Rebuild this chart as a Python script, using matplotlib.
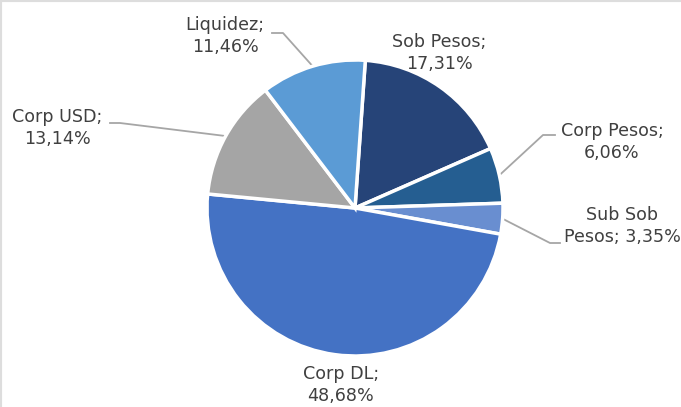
import matplotlib.pyplot as plt
import numpy as np
from matplotlib.lines import Line2D

# Portfolio composition (%), clockwise from 12 o'clock
categories = ['Sob Pesos', 'Corp Pesos', 'Sub Sob Pesos', 'Corp DL', 'Corp USD', 'Liquidez']
shares = [17.31, 6.06, 3.35, 48.68, 13.14, 11.46]
label_texts = ['Sob Pesos;\n17,31%', 'Corp Pesos;\n6,06%', 'Sub Sob\nPesos; 3,35%',
               'Corp DL;\n48,68%', 'Corp USD;\n13,14%', 'Liquidez;\n11,46%']

colors = ['#264478', '#255E91', '#698ED0', '#4472C4', '#A5A5A5', '#5B9BD5']

W, H = 681, 407
fig = plt.figure(figsize=(W / 100, H / 100), dpi=100)
ax = fig.add_axes([0, 0, 1, 1])

cx, cy, r = 355, H - 208, 148
start = 86
wedges, _ = ax.pie(shares, colors=colors, startangle=start, counterclock=False,
                   center=(cx, cy), radius=r, frame=True,
                   wedgeprops=dict(edgecolor='white', linewidth=2.5))
ax.set_xlim(0, W)
ax.set_ylim(0, H)
ax.set_aspect('equal')
ax.axis('off')

# label placement (pixel coords from top-left) and leader elbows (None = no leader)
label_pos = [(439, 53), (612, 142), (622, 226), (341, 385), (57, 128), (225, 36)]
elbows = [None, [(555, 135), (543, 135)], [(560, 243), (550, 243)], None,
          [(110, 123), (120, 123)], [(272, 33), (283, 33)]]

txt_color = '#404040'
for w, txt, pos, elb in zip(wedges, label_texts, label_pos, elbows):
    ax.text(pos[0], H - pos[1], txt, ha='center', va='center', multialignment='center',
            fontsize=12.6, color=txt_color, family='DejaVu Sans', linespacing=1.3)
    if elb is not None:
        mid = np.deg2rad((w.theta1 + w.theta2) / 2)
        ex, ey = cx + r * np.cos(mid), cy + r * np.sin(mid)
        xs = [elb[0][0], elb[1][0], ex]
        ys = [H - elb[0][1], H - elb[1][1], ey]
        ax.plot(xs, ys, color='#A6A6A6', lw=1.3, zorder=0.5)

# light frame only on top and left edges
fig.add_artist(Line2D([0, 1], [1, 1], transform=fig.transFigure, color='#DDDDDD', lw=3))
fig.add_artist(Line2D([0, 0], [0, 1], transform=fig.transFigure, color='#DDDDDD', lw=3))

fig.savefig('out.png', dpi=100)
plt.close(fig)
